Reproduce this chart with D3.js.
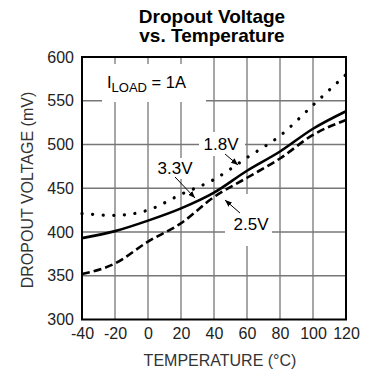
<!DOCTYPE HTML>
<html>
<head>
<meta charset="utf-8">
<title>Dropout Voltage vs. Temperature</title>
<style>
  body { margin: 0; background: #fff; }
  text { font-family: "Liberation Sans", Arial, sans-serif; }
</style>
</head>
<body>
<div id="chart1"></div>
<script src="https://d3js.org/d3.v7.min.js"></script>
<script type='text/javascript'>

// temperatures (deg C) along the x axis
var temps = [-40, -20, 0, 20, 40, 60, 80, 100, 120];

// dropout voltage (mV) for each output voltage
var v18 = [421, 419, 425, 443, 460, 485, 510, 545, 580];
var v33 = [393, 401, 413, 427, 445, 470, 492, 518, 538];
var v25 = [352, 364, 389, 410, 440, 462, 484, 511, 528];

var xTicks = [-40, -20, 0, 20, 40, 60, 80, 100, 120];
var yTicks = [300, 350, 400, 450, 500, 550, 600];

const width = 373;
const height = 374;
const margin = {'top': 57, 'right': 27, 'bottom': 54.5, 'left': 82};
const graphWidth = width - margin.left - margin.right;
const graphHeight = height - margin.top - margin.bottom;

const svg = d3.select('#chart1')
	.append('svg')
	.attr('width', width)
	.attr('height', height);

const graph = svg.append('g')
	.attr('transform', `translate(${margin.left}, ${margin.top})`);

const x = d3.scaleLinear().domain([-40, 120]).range([0, graphWidth]);
const y = d3.scaleLinear().domain([300, 600]).range([graphHeight, 0]);

// title
svg.append('text')
	.attr('x', 212).attr('y', 23)
	.attr('text-anchor', 'middle')
	.style('font-weight', 'bold').style('font-size', '19px')
	.text('Dropout Voltage');
svg.append('text')
	.attr('x', 212).attr('y', 42)
	.attr('text-anchor', 'middle')
	.style('font-weight', 'bold').style('font-size', '19px')
	.text('vs. Temperature');

// grid
graph.append('g')
	.selectAll('line.vgrid')
	.data(xTicks.slice(1, -1))
	.enter().append('line')
	.attr('x1', d => x(d)).attr('x2', d => x(d))
	.attr('y1', 0).attr('y2', graphHeight)
	.attr('stroke', '#777').attr('stroke-width', 1.3);

graph.append('g')
	.selectAll('line.hgrid')
	.data(yTicks.slice(1, -1))
	.enter().append('line')
	.attr('x1', 0).attr('x2', graphWidth)
	.attr('y1', d => y(d)).attr('y2', d => y(d))
	.attr('stroke', '#777').attr('stroke-width', 1.3);

// axes (labels only, frame drawn below)
const xAxis = d3.axisBottom(x).tickValues(xTicks).tickSize(0).tickPadding(8)
	.tickFormat(d => String(d));
const yAxis = d3.axisLeft(y).tickValues(yTicks).tickSize(0).tickPadding(8)
	.tickFormat(d => String(d));

const gX = graph.append('g')
	.attr('transform', `translate(0, ${graphHeight})`)
	.call(xAxis);
const gY = graph.append('g').call(yAxis);

gX.select('.domain').remove();
gY.select('.domain').remove();
gX.selectAll('text').style('font-size', '16px').attr('fill', '#222')
	.style('font-family', '"Liberation Sans", Arial, sans-serif');
gY.selectAll('text').style('font-size', '16px').attr('fill', '#222')
	.style('font-family', '"Liberation Sans", Arial, sans-serif');

// white boxes behind the annotations
var boxes = [[102, 64, 104, 38], [199, 132, 46, 24], [153, 158, 43, 21], [225, 194, 47, 52]];
svg.append('g')
	.selectAll('rect')
	.data(boxes)
	.enter().append('rect')
	.attr('x', d => d[0]).attr('y', d => d[1])
	.attr('width', d => d[2]).attr('height', d => d[3])
	.attr('fill', '#fff');

// frame
graph.append('rect')
	.attr('width', graphWidth).attr('height', graphHeight)
	.attr('fill', 'none').attr('stroke', '#000').attr('stroke-width', 2);

// curves
const line = d3.line()
	.x((d, i) => x(temps[i]))
	.y(d => y(d))
	.curve(d3.curveMonotoneX);

graph.append('path').datum(v25)
	.attr('d', line).attr('fill', 'none')
	.attr('stroke', '#000').attr('stroke-width', 2.6)
	.attr('stroke-dasharray', '8,4');

graph.append('path').datum(v33)
	.attr('d', line).attr('fill', 'none')
	.attr('stroke', '#000').attr('stroke-width', 2.6);

graph.append('path').datum(v18)
	.attr('d', line).attr('fill', 'none')
	.attr('stroke', '#000').attr('stroke-width', 3.2)
	.attr('stroke-linecap', 'round')
	.attr('stroke-dasharray', '0.1,10.5');

// annotation texts
var iload = svg.append('text')
	.attr('x', 107).attr('y', 88)
	.style('font-size', '16.5px');
iload.append('tspan').text('I');
iload.append('tspan').attr('dy', 4).style('font-size', '13px').text('LOAD');
iload.append('tspan').attr('dy', -4).text(' = 1A');

var curveLabels = [['1.8V', 221, 150], ['3.3V', 175, 174], ['2.5V', 251, 230]];
svg.append('g')
	.selectAll('text')
	.data(curveLabels)
	.enter().append('text')
	.attr('x', d => d[1]).attr('y', d => d[2])
	.attr('text-anchor', 'middle')
	.style('font-size', '17px')
	.text(d => d[0]);

// arrows
svg.append('defs').append('marker')
	.attr('id', 'arrow')
	.attr('viewBox', '0 0 10 10')
	.attr('refX', 10).attr('refY', 5)
	.attr('markerWidth', 7).attr('markerHeight', 7)
	.attr('markerUnits', 'userSpaceOnUse')
	.attr('orient', 'auto')
	.append('path').attr('d', 'M0,1L10,5L0,9Z').attr('fill', '#000');

var arrows = [[225, 154, 238, 165], [175, 177, 195, 198], [240, 213, 225, 200]];
svg.append('g')
	.selectAll('line')
	.data(arrows)
	.enter().append('line')
	.attr('x1', d => d[0]).attr('y1', d => d[1])
	.attr('x2', d => d[2]).attr('y2', d => d[3])
	.attr('stroke', '#000').attr('stroke-width', 1)
	.attr('marker-end', 'url(#arrow)');

// axis titles
svg.append('text')
	.attr('transform', 'translate(33, 190) rotate(-90)')
	.attr('text-anchor', 'middle')
	.attr('fill', '#333')
	.style('font-size', '16px')
	.text('DROPOUT VOLTAGE (mV)');

svg.append('text')
	.attr('x', 220).attr('y', 366)
	.attr('text-anchor', 'middle')
	.attr('fill', '#333')
	.style('font-size', '16px')
	.text('TEMPERATURE (°C)');

</script>
</body>
</html>
